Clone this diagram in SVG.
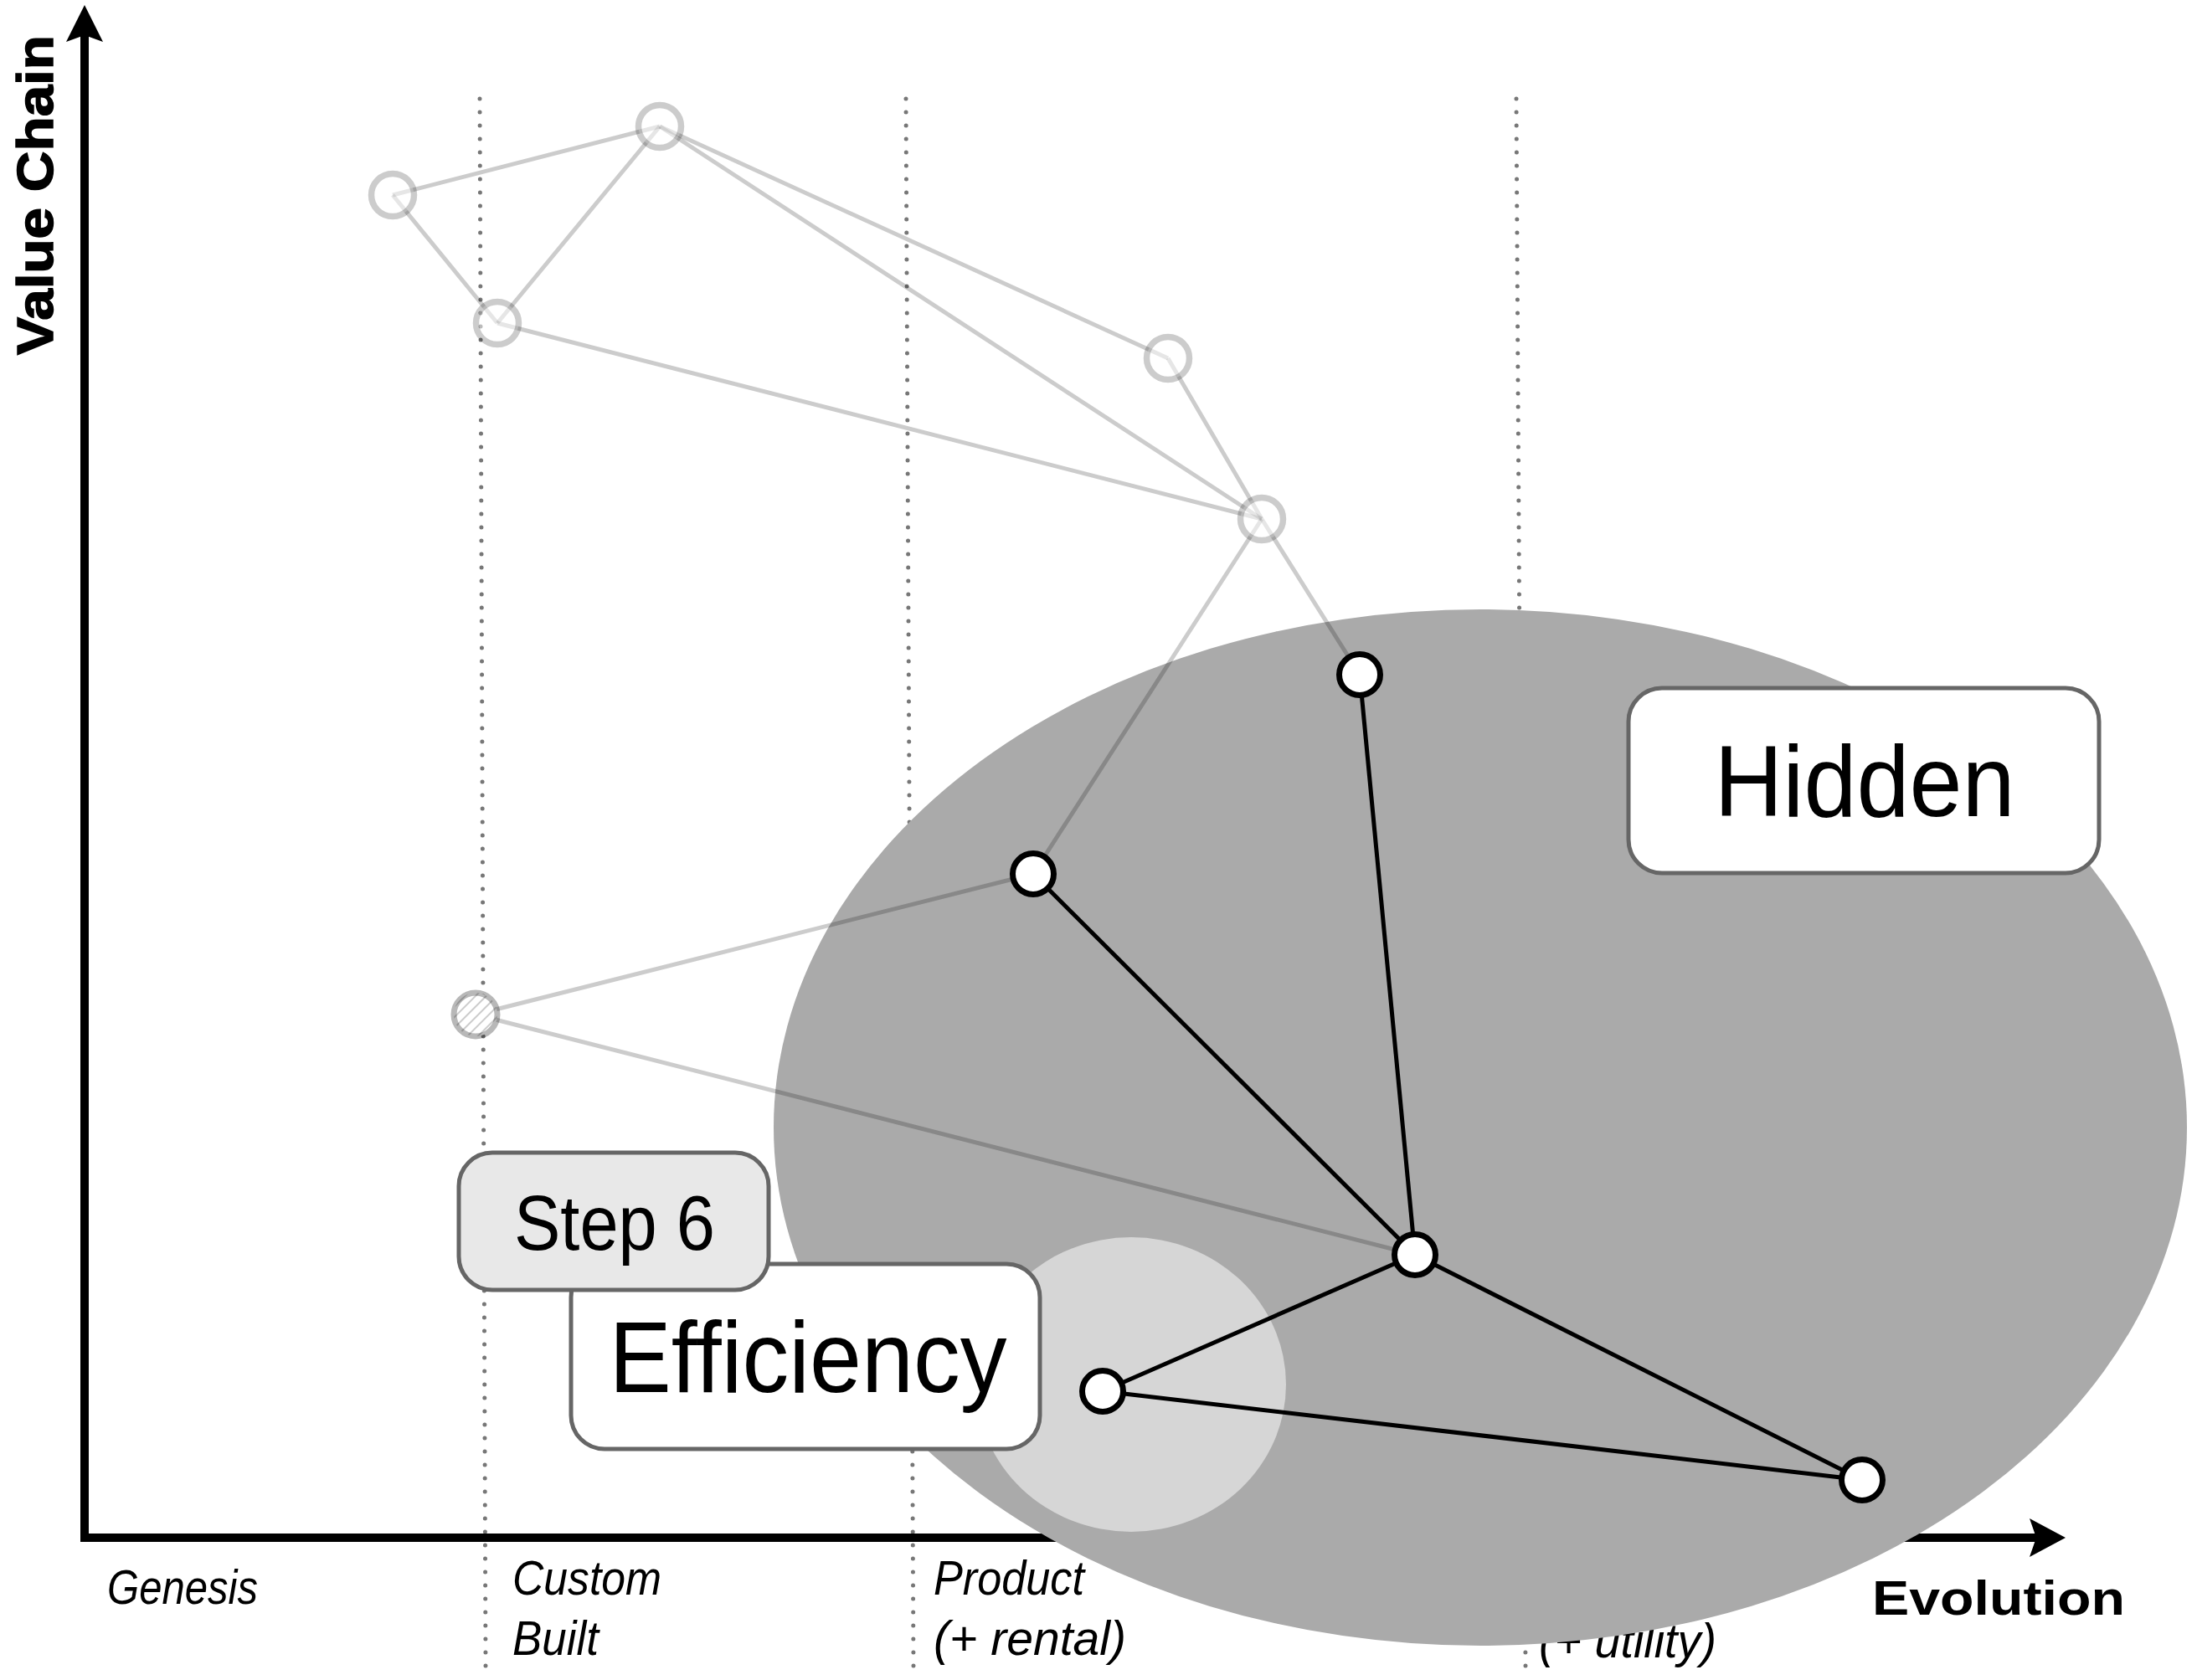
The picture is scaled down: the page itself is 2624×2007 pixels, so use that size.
<svg xmlns="http://www.w3.org/2000/svg" width="2624" height="2007" viewBox="0 0 2624 2007">
  <style>
    .grid { stroke: #777; stroke-width: 5; stroke-linecap: round; stroke-dasharray: 0 16; fill: none; }
    .axis { stroke: #000; stroke-width: 10; fill: none; }
    .axis-label { font-family: "Liberation Sans", Arial, sans-serif; font-weight: bold; fill: #000; }
    .stage { font-family: "Liberation Sans", Arial, sans-serif; font-style: italic; font-size: 58px; fill: #000; }
    .faded-edge { stroke: #000; stroke-opacity: 0.2; stroke-width: 5; fill: none; }
    .faded-node { stroke: #000; stroke-opacity: 0.2; stroke-width: 7.5; fill: #fff; fill-opacity: 0.5; }
    .edge { stroke: #000; stroke-width: 5; fill: none; }
    .node { stroke: #000; stroke-width: 7; fill: #fff; }
    .box { stroke: #666; stroke-width: 5; fill: #fff; }
    .box-grey { fill: #e8e8e8; }
    .box-text { font-family: "Liberation Sans", Arial, sans-serif; fill: #000; text-anchor: middle; }
  </style>
  <defs>
    <pattern id="hatch" width="9" height="9" patternUnits="userSpaceOnUse" patternTransform="rotate(45)">
      <rect width="9" height="9" fill="#fff"/>
      <line x1="0" y1="0" x2="0" y2="9" stroke="#ccc" stroke-width="4"/>
    </pattern>
  </defs>
  <rect width="2624" height="2007" fill="#fff"/>

  <!-- evolution stage separators -->
  <g id="grid">
    <line class="grid" x1="573" y1="118" x2="580" y2="1990"/>
    <line class="grid" x1="1082" y1="118" x2="1091" y2="1990"/>
    <line class="grid" x1="1811" y1="118" x2="1822" y2="1990"/>
  </g>

  <!-- axes -->
  <g id="axes">
    <line class="axis" x1="101" y1="40" x2="101" y2="1842"/>
    <polygon points="101,6 123,50 101,42 79,50" fill="#000"/>
    <line class="axis" x1="96" y1="1837" x2="2440" y2="1837"/>
    <polygon points="2467,1837 2424,1860 2432,1837 2424,1814" fill="#000"/>
    <text class="axis-label" font-size="61" transform="translate(63,424) rotate(-90)" textLength="382" lengthAdjust="spacingAndGlyphs" stroke="#000" stroke-width="1.5">Value Chain</text>
    <text class="axis-label" font-size="57" x="2236" y="1929" textLength="302" lengthAdjust="spacingAndGlyphs">Evolution</text>
  </g>

  <!-- stage labels -->
  <g id="stages">
    <text class="stage" x="128" y="1916" textLength="180" lengthAdjust="spacingAndGlyphs">Genesis</text>
    <text class="stage" x="612" y="1905" textLength="178" lengthAdjust="spacingAndGlyphs">Custom</text>
    <text class="stage" x="612" y="1977" textLength="103" lengthAdjust="spacingAndGlyphs">Built</text>
    <text class="stage" x="1115" y="1905" textLength="180" lengthAdjust="spacingAndGlyphs">Product</text>
    <text class="stage" x="1115" y="1977" textLength="230" lengthAdjust="spacingAndGlyphs">(+ rental)</text>
    <text class="stage" x="1838" y="1980" textLength="212" lengthAdjust="spacingAndGlyphs">(+ utility)</text>
  </g>

  <!-- regions -->
  <g id="region-hidden">
    <ellipse cx="1768" cy="1347" rx="844" ry="619" fill="#aaa"/>
  </g>
  <g id="region-efficiency">
    <ellipse cx="1351" cy="1654" rx="185" ry="176" fill="#d6d6d6"/>
  </g>

  <!-- connectors -->
  <g id="connectors">
    <g id="faded-connectors">
      <line class="faded-edge" x1="469" y1="233" x2="788" y2="151"/>
      <line class="faded-edge" x1="469" y1="233" x2="594" y2="386"/>
      <line class="faded-edge" x1="788" y1="151" x2="594" y2="386"/>
      <line class="faded-edge" x1="788" y1="151" x2="1395" y2="428"/>
      <line class="faded-edge" x1="788" y1="151" x2="1507" y2="620"/>
      <line class="faded-edge" x1="594" y1="386" x2="1507" y2="620"/>
      <line class="faded-edge" x1="1395" y1="428" x2="1507" y2="620"/>
      <line class="faded-edge" x1="1507" y1="620" x2="1624" y2="806"/>
      <line class="faded-edge" x1="1507" y1="620" x2="1234" y2="1044"/>
      <line class="faded-edge" x1="1234" y1="1044" x2="568" y2="1212"/>
      <line class="faded-edge" x1="568" y1="1212" x2="1690" y2="1499"/>
    </g>
    <g id="active-connectors">
      <line class="edge" x1="1624" y1="806" x2="1690" y2="1499"/>
      <line class="edge" x1="1234" y1="1044" x2="1690" y2="1499"/>
      <line class="edge" x1="1690" y1="1499" x2="1317" y2="1662"/>
      <line class="edge" x1="1690" y1="1499" x2="2224" y2="1768"/>
      <line class="edge" x1="1317" y1="1662" x2="2224" y2="1768"/>
    </g>
  </g>

  <!-- faded components -->
  <g id="node-a"><circle class="faded-node" cx="469" cy="233" r="25.5"/></g>
  <g id="node-b"><circle class="faded-node" cx="788" cy="151" r="25.5"/></g>
  <g id="node-c"><circle class="faded-node" cx="594" cy="386" r="25.5"/></g>
  <g id="node-d"><circle class="faded-node" cx="1395" cy="428" r="25.5"/></g>
  <g id="node-e"><circle class="faded-node" cx="1507" cy="620" r="25.5"/></g>
  <g id="node-f"><circle cx="568" cy="1212" r="26" fill="url(#hatch)" stroke="#000" stroke-opacity="0.28" stroke-width="7"/></g>

  <!-- active components -->
  <g id="node-g"><circle class="node" cx="1624" cy="806" r="24.5"/></g>
  <g id="node-h"><circle class="node" cx="1234" cy="1044" r="24.5"/></g>
  <g id="node-i"><circle class="node" cx="1690" cy="1499" r="24.5"/></g>
  <g id="node-j"><circle class="node" cx="1317" cy="1662" r="24.5"/></g>
  <g id="node-k"><circle class="node" cx="2224" cy="1768" r="24.5"/></g>

  <!-- labels -->
  <g id="label-efficiency">
    <rect class="box" x="682" y="1510" width="560" height="221" rx="40" ry="40"/>
    <text class="box-text" x="965" y="1663" font-size="120" textLength="475" lengthAdjust="spacingAndGlyphs">Efficiency</text>
  </g>
  <g id="label-step">
    <rect class="box box-grey" x="548" y="1377" width="370" height="164" rx="40" ry="40"/>
    <text class="box-text" x="734" y="1493" font-size="93" textLength="240" lengthAdjust="spacingAndGlyphs">Step 6</text>
  </g>
  <g id="label-hidden">
    <rect class="box" x="1945" y="822" width="562" height="221" rx="40" ry="40"/>
    <text class="box-text" x="2227" y="975" font-size="121" textLength="359" lengthAdjust="spacingAndGlyphs">Hidden</text>
  </g>
</svg>
